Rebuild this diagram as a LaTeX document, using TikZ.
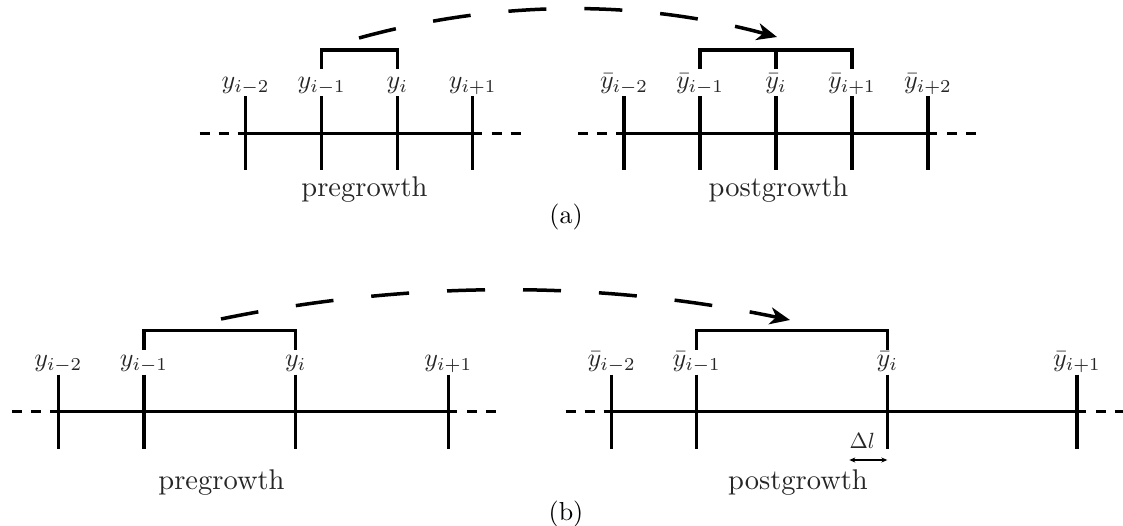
\documentclass[tikz,border=0pt]{standalone}
\usepackage{fontspec}
\usetikzlibrary{arrows.meta}
\tikzset{
  axisline/.style={line width=3.3pt},
  endsline/.style={line width=3.3pt, dash pattern=on 10pt off 9pt},
  tickline/.style={line width=3.3pt},
  brack/.style={line width=3.2pt, line join=miter},
  jump/.style={line width=3.5pt, dash pattern=on 38pt off 38pt,
    -{Stealth[length=20pt,width=17pt,inset=6pt]}},
  dlarrow/.style={line width=1.2pt,
    {Stealth[length=6pt,width=5pt]}-{Stealth[length=6pt,width=5pt]}},
  lab/.style={anchor=base, inner sep=0pt, text=black!85, scale=2.6},
  word/.style={anchor=base, inner sep=0pt, text=black!85, scale=2.85},
  captext/.style={inner sep=0pt, scale=2.6},
  dlab/.style={inner sep=0pt, text=black!85, scale=2.2},
}
\begin{document}
\begin{tikzpicture}[x=1pt,y=-1pt]
\useasboundingbox (0,0) rectangle (1123,526);

% ---------- tick coordinates ----------
\coordinate (a1) at (245.6,133.5);
\coordinate (a2) at (321.7,133.5);
\coordinate (a3) at (397.3,133.5);
\coordinate (a4) at (472.7,133.5);
\coordinate (pa1) at (624,133.5);
\coordinate (pa2) at (700,133.5);
\coordinate (pa3) at (776,133.5);
\coordinate (pa4) at (852,133.5);
\coordinate (pa5) at (928,133.5);
\coordinate (b1) at (58.3,411.7);
\coordinate (b2) at (144,411.7);
\coordinate (b3) at (295.7,411.7);
\coordinate (b4) at (448.3,411.7);
\coordinate (pb1) at (611.7,411.7);
\coordinate (pb2) at (696.7,411.7);
\coordinate (pb3) at (887.3,411.7);
\coordinate (pb4) at (1077,411.7);

% ---------- axes ----------
\foreach \f/\l in {a1/a4, pa1/pa5, b1/b4, pb1/pb4}{
  \draw[axisline] ([xshift=-8pt]\f) -- ([xshift=9pt]\l);
  \draw[endsline] ([xshift=-46pt]\f) -- ([xshift=-17pt]\f);
  \draw[endsline] ([xshift=19pt]\l) -- ([xshift=48pt]\l);
}
\foreach \t in {a1,a2,a3,a4,pa1,pa2,pa3,pa4,pa5,b1,b2,b3,b4,pb1,pb2,pb3,pb4}{
  \draw[tickline] ([yshift=37pt]\t) -- ([yshift=-37pt]\t);
}

% ---------- labels ----------
\node[lab] (la1) at ([yshift=45pt]a1) {$y_{i-2}$};
\node[lab] (la2) at ([yshift=45pt]a2) {$y_{i-1}$};
\node[lab] (la3) at ([yshift=45pt]a3) {$y_{i}$};
\node[lab] (la4) at ([yshift=45pt]a4) {$y_{i+1}$};
\node[lab] (lpa1) at ([yshift=45pt]pa1) {$\bar{y}_{i-2}$};
\node[lab] (lpa2) at ([yshift=45pt]pa2) {$\bar{y}_{i-1}$};
\node[lab] (lpa3) at ([yshift=45pt]pa3) {$\bar{y}_{i}$};
\node[lab] (lpa4) at ([yshift=45pt]pa4) {$\bar{y}_{i+1}$};
\node[lab] (lpa5) at ([yshift=45pt]pa5) {$\bar{y}_{i+2}$};
\node[lab] (lb1) at ([yshift=45pt]b1) {$y_{i-2}$};
\node[lab] (lb2) at ([yshift=45pt]b2) {$y_{i-1}$};
\node[lab] (lb3) at ([yshift=45pt]b3) {$y_{i}$};
\node[lab] (lb4) at ([yshift=45pt]b4) {$y_{i+1}$};
\node[lab] (lpb1) at ([yshift=45pt]pb1) {$\bar{y}_{i-2}$};
\node[lab] (lpb2) at ([yshift=45pt]pb2) {$\bar{y}_{i-1}$};
\node[lab] (lpb3) at ([yshift=45pt]pb3) {$\bar{y}_{i}$};
\node[lab] (lpb4) at ([yshift=45pt]pb4) {$\bar{y}_{i+1}$};

% ---------- brackets ----------
\draw[brack] ([yshift=64.5pt]a2) -- ([yshift=83.5pt]a2) -| ([yshift=64.5pt]a3);
\draw[brack] ([yshift=64.5pt]pa2) -- ([yshift=83.5pt]pa2) -| ([yshift=64.5pt]pa4);
\draw[brack] ([yshift=83.5pt]pa3) -- ([yshift=64.5pt]pa3);
\draw[brack] ([yshift=62.2pt]b2) -- ([yshift=81.2pt]b2) -| ([yshift=62.2pt]b3);
\draw[brack] ([yshift=62.2pt]pb2) -- ([yshift=81.2pt]pb2) -| ([yshift=62.2pt]pb3);

% ---------- jump arrows ----------
\coordinate (sa) at (359,38);
\coordinate (ea) at (777,37);
\draw[jump] (sa) .. controls (498.3,-0.3) and (637.7,-0.7) .. (ea);
\coordinate (sb) at (221,319);
\coordinate (eb) at (790,320);
\draw[jump] (sb) .. controls (410.7,280) and (600.3,280.3) .. (eb);

% ---------- delta l ----------
\coordinate (dl1) at ([xshift=-38pt,yshift=-48.3pt]pb3);
\coordinate (dl2) at ([yshift=-48.3pt]pb3);
\draw[dlarrow] (dl1) -- (dl2);
\node[dlab] (dl) at ([xshift=-25pt,yshift=-29.3pt]pb3) {$\Delta l$};

% ---------- words ----------
\node[word] (pre1) at (364.5,197) {pregrowth};
\node[word] (post1) at (778.5,197) {postgrowth};
\node[word] (pre2) at (221.5,489) {pregrowth};
\node[word] (post2) at (798,489) {postgrowth};
\node[captext] (capa) at (566,217) {(a)};
\node[captext] (capb) at (566,514) {(b)};
\end{tikzpicture}
\end{document}
